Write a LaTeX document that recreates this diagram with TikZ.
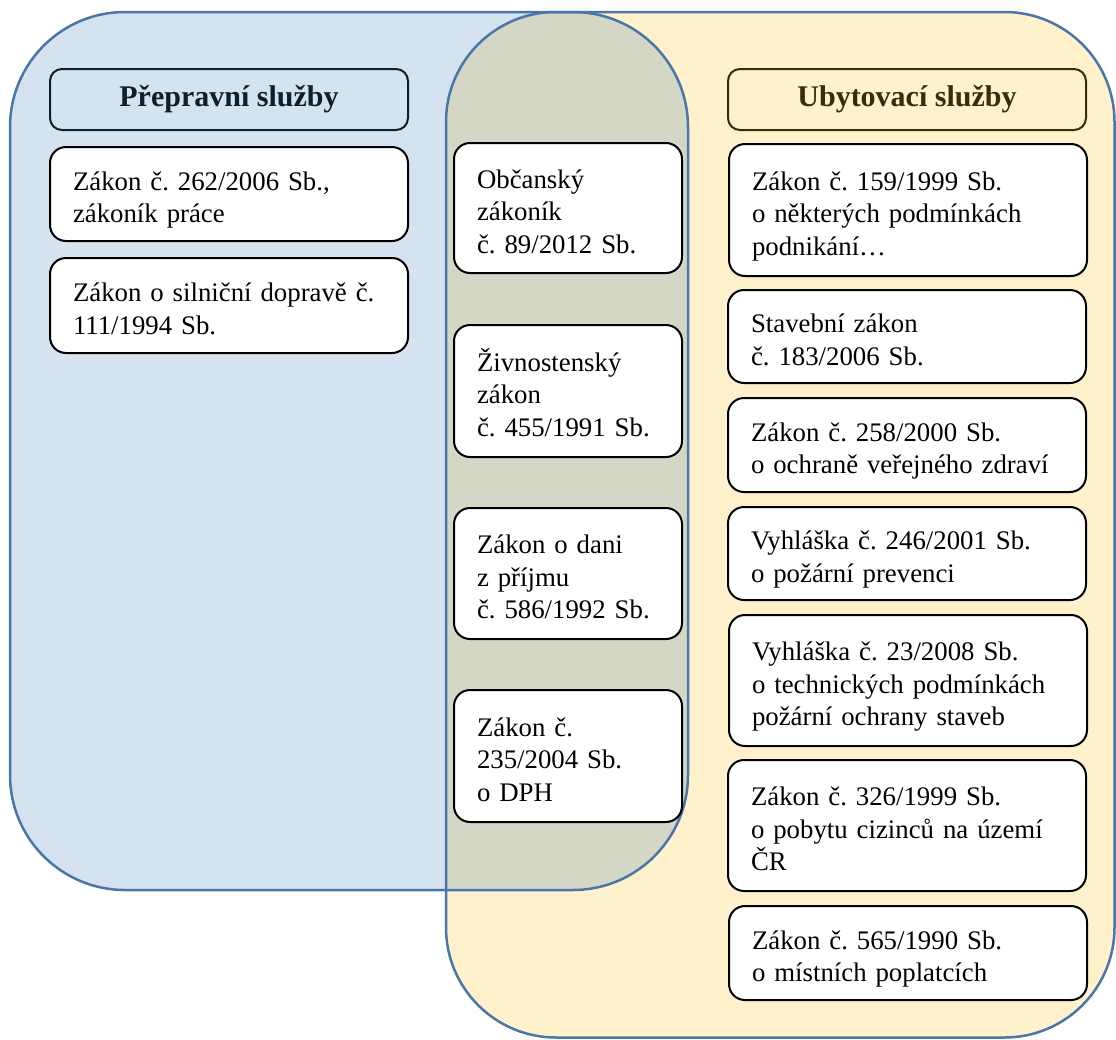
\documentclass[tikz,border=0pt]{standalone}
\usepackage{fontspec}
\setmainfont{Liberation Serif}
\definecolor{bluefill}{HTML}{D5E2F0}
\definecolor{yelfill}{HTML}{FFF1CC}
\definecolor{olivefill}{HTML}{D4D7C6}
\definecolor{edgeblue}{HTML}{4A76A8}
\definecolor{navytext}{HTML}{0F1D2E}
\definecolor{browntext}{HTML}{3A2C08}
\newcommand{\lawfont}{\fontsize{26.8}{32.5}\selectfont\frenchspacing}
\newcommand{\hdrfont}{\fontsize{30}{34}\selectfont\bfseries}
\tikzset{
  lawbox/.style={draw=black, line width=2pt, fill=white, rounded corners=16pt,
    align=left, font=\lawfont, inner xsep=23pt, inner ysep=0pt, anchor=north west,
    execute at begin node={\rule{0pt}{33pt}},
    execute at end node={\rule[-8pt]{0pt}{8pt}}},
  sidebox/.style={lawbox, text width=312pt},
  midbox/.style={lawbox, text width=182pt},
  hdrbox/.style={line width=2pt, rounded corners=12pt, font=\hdrfont,
    minimum width=358pt, minimum height=61pt, anchor=north west, inner sep=0pt},
  hdrL/.style={hdrbox, draw=navytext, fill=bluefill, text=navytext},
  hdrR/.style={hdrbox, draw=browntext, fill=yelfill, text=browntext},
  setline/.style={draw=edgeblue, line width=2.5pt}
}
\begin{document}
\begin{tikzpicture}[x=1pt,y=-1pt]
\useasboundingbox (0,0) rectangle (1116,1039);
% set backgrounds
\fill[bluefill, rounded corners=115pt] (10,12) rectangle (688,890);
\fill[yelfill, rounded corners=110pt] (446,12) rectangle (1114.5,1037.5);
\begin{scope}
  \clip[rounded corners=115pt] (10,12) rectangle (688,890);
  \fill[olivefill, rounded corners=110pt] (446,12) rectangle (1114.5,1037.5);
\end{scope}
\draw[setline, rounded corners=115pt] (10,12) rectangle (688,890);
\draw[setline, rounded corners=110pt] (446,12) rectangle (1114.5,1037.5);
% headers
\node[hdrL] (hl) at (49,68) {Přepravní služby};
\node[hdrR] (hr) at (727,68) {Ubytovací služby};
% left column
\node[sidebox, minimum height=94pt] (l1) at (49,146) {Zákon č. 262/2006 Sb.,\\ zákoník práce};
\node[sidebox, minimum height=95pt] (l2) at (49,257) {Zákon o silniční dopravě č.\\ 111/1994 Sb.};
% middle column
\node[midbox, minimum height=130pt] (m1) at (453,142) {Občanský\\ zákoník\\ č. 89/2012 Sb.};
\node[midbox, minimum height=132pt] (m2) at (453,324) {Živnostenský\\ zákon\\ č. 455/1991 Sb.};
\node[midbox, minimum height=131pt] (m3) at (453,507) {Zákon o dani\\ z příjmu\\ č. 586/1992 Sb.};
\node[midbox, minimum height=132pt] (m4) at (453,689) {Zákon č.\\ 235/2004 Sb.\\ o DPH};
% right column
\node[sidebox, minimum height=132pt] (r1) at (728,143) {Zákon č. 159/1999 Sb.\\ o některých podmínkách\\ podnikání…};
\node[sidebox, minimum height=93pt] (r2) at (727,289) {Stavební zákon\\ č. 183/2006 Sb.};
\node[sidebox, minimum height=94pt] (r3) at (727,397) {Zákon č. 258/2000 Sb.\\ o ochraně veřejného zdraví};
\node[sidebox, minimum height=93pt] (r4) at (727,506) {Vyhláška č. 246/2001 Sb.\\ o požární prevenci};
\node[sidebox, minimum height=131pt] (r5) at (728,614) {Vyhláška č. 23/2008 Sb.\\ o technických podmínkách\\ požární ochrany staveb};
\node[sidebox, minimum height=131pt] (r6) at (727,759) {Zákon č. 326/1999 Sb.\\ o pobytu cizinců na území\\ ČR};
\node[sidebox, minimum height=94pt] (r7) at (728,905) {Zákon č. 565/1990 Sb.\\ o místních poplatcích};
\end{tikzpicture}
\end{document}
